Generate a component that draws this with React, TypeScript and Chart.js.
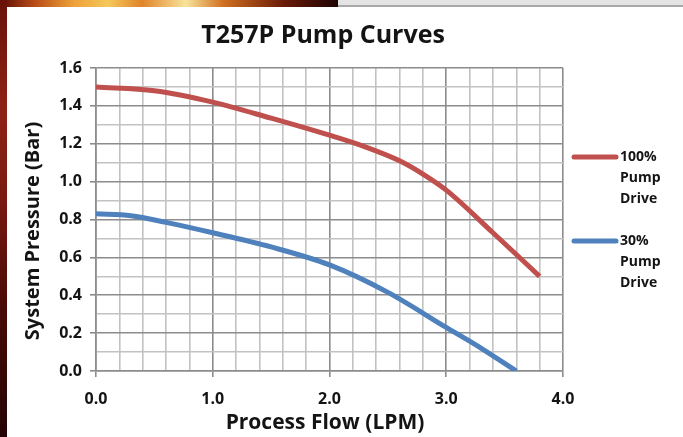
import React, { useEffect, useRef } from 'react';
import { Chart, registerables } from 'chart.js';

Chart.register(...registerables);

// ---- data ----
const flow100 = [0, 0.5, 1.0, 1.5, 2.0, 2.3, 2.6, 2.8, 3.0, 3.4, 3.8];
const pressure100 = [1.5, 1.48, 1.42, 1.335, 1.245, 1.185, 1.11, 1.04, 0.955, 0.73, 0.5];
const flow30 = [0, 0.3, 0.6, 1.0, 1.5, 2.0, 2.5, 3.0, 3.3, 3.6];
const pressure30 = [0.83, 0.82, 0.785, 0.73, 0.655, 0.56, 0.415, 0.23, 0.12, 0.0];
const seriesLabels = [
  ['100%', 'Pump', 'Drive'],
  ['30%', 'Pump', 'Drive'],
];
const seriesColors = ['#c0504d', '#4f81bd'];
const chartTitle = 'T257P Pump Curves';
const xTitle = 'Process Flow (LPM)';
const yTitle = 'System Pressure (Bar)';

const FONT = '"Open Sans", "Liberation Sans", sans-serif';
const TEXT = '#141414';
const MINOR = '#c2c2c2';
const MAJOR = '#8c8c8c';

const textPlugin = {
  id: 'customText',
  afterDraw(chart: any) {
    const ctx = chart.ctx;
    ctx.save();
    ctx.fillStyle = TEXT;
    ctx.textAlign = 'center';
    ctx.textBaseline = 'middle';
    ctx.font = `bold 25px ${FONT}`;
    ctx.fillText(chartTitle, 323, 36);
    ctx.font = `bold 21px ${FONT}`;
    ctx.fillText(xTitle, 325, 423);
    ctx.font = `bold 20px ${FONT}`;
    ctx.save();
    ctx.translate(33, 231);
    ctx.rotate(-Math.PI / 2);
    ctx.fillText(yTitle, 0, 0);
    ctx.restore();
    // legend
    const ys = [157, 241];
    chart.data.datasets.forEach((ds: any, i: number) => {
      const y0 = ys[i];
      ctx.strokeStyle = ds.borderColor;
      ctx.lineWidth = 5;
      ctx.lineCap = 'round';
      ctx.beginPath();
      ctx.moveTo(574, y0);
      ctx.lineTo(616, y0);
      ctx.stroke();
      ctx.font = `bold 14px ${FONT}`;
      ctx.textAlign = 'left';
      ctx.fillStyle = TEXT;
      seriesLabels[i].forEach((t, k) => ctx.fillText(t, 620, y0 + k * 21));
    });
    ctx.restore();
  },
};

export default function App() {
  const ref = useRef<HTMLCanvasElement | null>(null);
  useEffect(() => {
    if (!ref.current) return;
    const chart = new Chart(ref.current, {
      type: 'line',
      data: {
        datasets: [
          {
            label: seriesLabels[0].join(' '),
            data: flow100.map((x, i) => ({ x, y: pressure100[i] })),
            borderColor: seriesColors[0],
            backgroundColor: seriesColors[0],
            borderWidth: 5,
            pointRadius: 0,
            cubicInterpolationMode: 'monotone',
            borderCapStyle: 'butt',
          },
          {
            label: seriesLabels[1].join(' '),
            data: flow30.map((x, i) => ({ x, y: pressure30[i] })),
            borderColor: seriesColors[1],
            backgroundColor: seriesColors[1],
            borderWidth: 5,
            pointRadius: 0,
            cubicInterpolationMode: 'monotone',
            borderCapStyle: 'butt',
          },
        ],
      },
      options: {
        animation: false,
        responsive: false,
        maintainAspectRatio: false,
        layout: { padding: { left: 0, right: 120, top: 68, bottom: 0 } },
        plugins: { legend: { display: false }, title: { display: false }, tooltip: { enabled: false } },
        scales: {
          x: {
            type: 'linear',
            min: 0,
            max: 4,
            afterFit: (s: any) => { s.height = 66; },
            ticks: {
              stepSize: 0.2,
              autoSkip: false,
              maxRotation: 0,
              padding: 13,
              color: TEXT,
              font: { family: FONT, weight: 'bold', size: 16 },
              callback: (v: any) => (Math.round(v * 5) % 5 === 0 ? Number(v).toFixed(1) : ''),
            },
            grid: {
              color: (c: any) => (Math.round(c.tick.value * 5) % 5 === 0 ? MAJOR : MINOR),
              tickColor: (c: any) => (Math.round(c.tick.value * 5) % 5 === 0 ? MAJOR : 'rgba(0,0,0,0)'),
              lineWidth: 1.6,
              tickLength: 6,
            },
            border: { color: MAJOR, width: 1.6 },
          },
          y: {
            type: 'linear',
            min: 0,
            max: 1.6,
            afterFit: (s: any) => { s.width = 96; },
            ticks: {
              stepSize: 0.1,
              autoSkip: false,
              padding: 8,
              color: TEXT,
              font: { family: FONT, weight: 'bold', size: 16 },
              callback: (v: any) => (Math.round(v * 10) % 2 === 0 ? Number(v).toFixed(1) : ''),
            },
            grid: {
              color: (c: any) => (Math.round(c.tick.value * 10) % 2 === 0 ? MAJOR : MINOR),
              tickColor: (c: any) => (Math.round(c.tick.value * 10) % 2 === 0 ? MAJOR : 'rgba(0,0,0,0)'),
              lineWidth: 1.6,
              tickLength: 6,
            },
            border: { color: MAJOR, width: 1.6 },
          },
        },
      },
      plugins: [textPlugin],
    } as any);
    return () => chart.destroy();
  }, []);

  return (
    <div style={{ position: 'fixed', left: 0, top: 0, width: 683, height: 437, background: '#ffffff', overflow: 'hidden' }}>
      <div
        style={{
          position: 'absolute', left: 0, top: 0, width: 338, height: 7,
          background: 'linear-gradient(90deg, #5a0c06 0%, #b84a16 10%, #eea23a 22%, #f4c85a 32%, #e0842a 42%, #f8e49a 55%, #d07020 66%, #6a1a08 84%, #1e0404 100%)',
        }}
      />
      <div
        style={{
          position: 'absolute', left: 338, top: 0, width: 345, height: 5,
          background: '#e4e4e4', borderBottom: '2px solid #a8a8a8',
        }}
      />
      <div
        style={{
          position: 'absolute', left: 0, top: 0, width: 7, height: 437,
          background: 'linear-gradient(180deg, #6a1208 0%, #8e2214 25%, #7a1a10 45%, #4a0a06 70%, #240404 100%)',
        }}
      />
      <canvas ref={ref} width={683} height={437} style={{ position: 'absolute', left: 0, top: 0, width: 683, height: 437 }} />
    </div>
  );
}
